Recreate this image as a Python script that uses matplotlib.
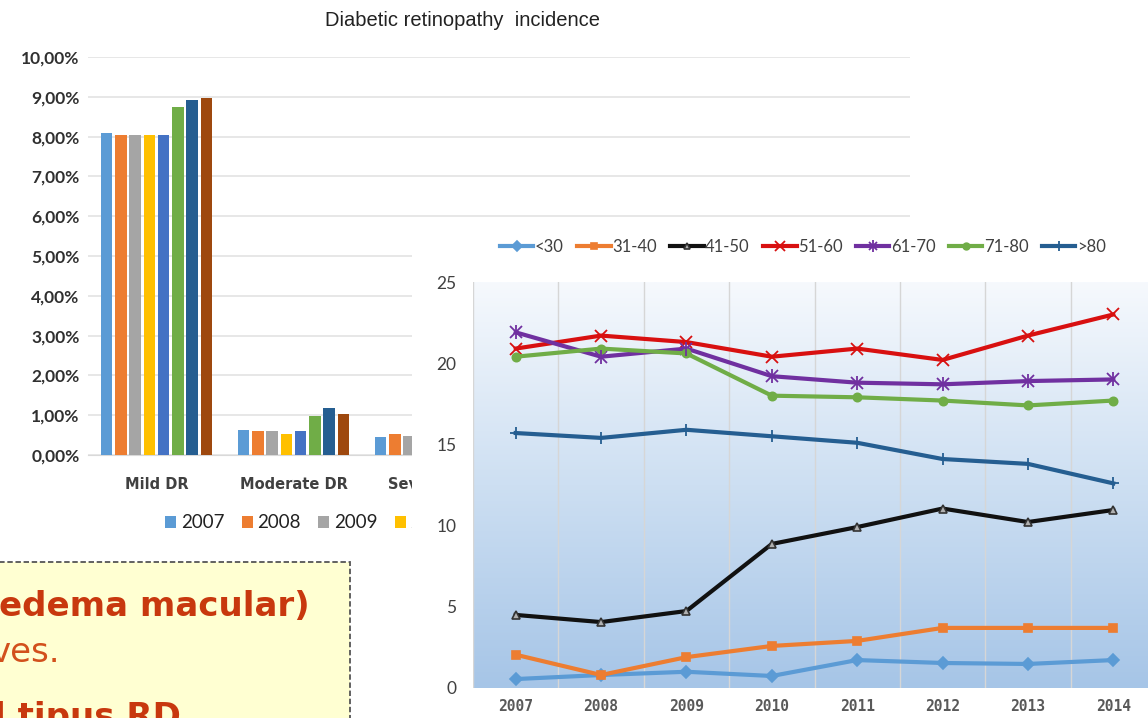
import numpy as np
import matplotlib.pyplot as plt
from matplotlib.patches import Rectangle, Patch
from matplotlib.legend_handler import HandlerTuple
from matplotlib.colors import LinearSegmentedColormap

W, H = 1148, 718

# ---- bar chart data (% of patients) ----
categories = ["Mild DR", "Moderate DR", "Severe DR"]
years = ["2007", "2008", "2009", "2010", "2011", "2012", "2013", "2014"]
bar_values = {
    "2007": [8.08, 0.64, 0.44],
    "2008": [8.04, 0.61, 0.52],
    "2009": [8.04, 0.61, 0.48],
    "2010": [8.04, 0.54, np.nan],
    "2011": [8.04, 0.61, np.nan],
    "2012": [8.75, 0.975, np.nan],
    "2013": [8.92, 1.17, np.nan],
    "2014": [8.98, 1.04, np.nan],
}
bar_colors = ["#5B9BD5", "#ED7D31", "#A5A5A5", "#FFC000",
              "#4472C4", "#70AD47", "#255E91", "#9E480E"]

# ---- line chart data ----
age_groups = ["<30", "31-40", "41-50", "51-60", "61-70", "71-80", ">80"]
line_values = {
    "<30":   [0.55, 0.8, 1.0, 0.74, 1.72, 1.54, 1.48, 1.72],
    "31-40": [2.05, 0.8, 1.9, 2.59, 2.9, 3.7, 3.7, 3.7],
    "41-50": [4.5, 4.06, 4.74, 8.87, 9.91, 11.05, 10.22, 10.96],
    "51-60": [20.9, 21.7, 21.3, 20.4, 20.9, 20.2, 21.7, 23.0],
    "61-70": [21.9, 20.4, 20.9, 19.2, 18.8, 18.7, 18.9, 19.0],
    "71-80": [20.4, 20.9, 20.6, 18.0, 17.9, 17.7, 17.4, 17.7],
    ">80":   [15.7, 15.4, 15.9, 15.5, 15.1, 14.1, 13.8, 12.6],
}
line_colors = ["#5B9BD5", "#ED7D31", "#111111", "#D81010", "#7030A0", "#70AD47", "#255E91"]
line_markers = ["D", "s", "^", "x", "*", "o", "+"]

fig = plt.figure(figsize=(W / 100, H / 100), dpi=100)


def fx(px):
    return px / W


def fy(py):
    return 1 - py / H


# ================= bar chart =================
ax = fig.add_axes([fx(88), fy(455), fx(910) - fx(88), fy(57) - fy(455)])
x = np.arange(len(categories))
slot = 0.1044
for i, yr in enumerate(years):
    ax.bar(x + (i - 3.5) * slot, bar_values[yr], width=0.085,
           color=bar_colors[i], label=yr, zorder=3)
ax.set_xlim(-0.5, 5.5)
ax.set_ylim(0, 10)
ax.set_yticks(np.arange(0, 11, 1))
ax.set_yticklabels([f"{v},00%" for v in range(11)], fontsize=12.5,
                   color="#303030", family="Lato", weight="bold")
ax.set_xticks(x)
ax.set_xticklabels(categories, fontsize=10.5, color="#404040", weight="bold")
ax.tick_params(length=0, axis="y", pad=6)
ax.tick_params(length=0, axis="x", pad=16)
ax.grid(axis="y", color="#E3E3E3", linewidth=1.2, zorder=0)
for s in ax.spines.values():
    s.set_visible(False)
ax.spines["bottom"].set_visible(True)
ax.spines["bottom"].set_color("#D9D9D9")
ax.set_title("Diabetic retinopathy  incidence", fontsize=14.5, family="Liberation Sans",
             color="#222222", x=(fx(462) - fx(88)) / (fx(910) - fx(88)), pad=22)
handles = [Patch(facecolor=c, label=yr) for c, yr in zip(bar_colors, years)]
ax.legend(handles=handles, ncol=8, loc="center", frameon=False,
          bbox_to_anchor=(fx(463), fy(523)), bbox_transform=fig.transFigure,
          prop={"family": "Lato", "size": 13.5}, handlelength=0.6, handleheight=0.6,
          handletextpad=0.25, columnspacing=0.91, labelcolor="#222222")

# ================= white area behind the line chart =================
fig.patches.append(Rectangle((fx(412), 0), 1 - fx(412), fy(230), transform=fig.transFigure,
                             facecolor="white", edgecolor="none", zorder=1))

# ================= text box =================
fig.patches.append(Rectangle((-0.01, -0.01), fx(350) + 0.01, fy(562) + 0.01,
                             transform=fig.transFigure, facecolor="#FFFFD2",
                             edgecolor="#555555", linestyle=(0, (3, 1.5)),
                             linewidth=1.3, zorder=1))
fig.text(fx(-1), fy(606), "edema macular)", fontsize=24.5, weight="bold", family="DejaVu Sans",
         color="#C8380E", va="center", ha="left", zorder=3)
fig.text(fx(-9), fy(652), "ves.", fontsize=24.5, family="DejaVu Sans",
         color="#D2501C", va="center", ha="left", zorder=3)
fig.text(fx(-6), fy(718), "l tipus RD", fontsize=24.5, weight="bold", family="DejaVu Sans",
         color="#C8380E", va="center", ha="left", zorder=3)

# ================= line chart =================
ax2 = fig.add_axes([fx(473), fy(688), fx(1156) - fx(473), fy(282) - fy(688)])
ax2.set_zorder(2)
grad = np.linspace(0, 1, 256).reshape(-1, 1)
cmap = LinearSegmentedColormap.from_list("bg", ["#F6F9FD", "#CDDFF2", "#A6C5E7"])
ax2.imshow(grad, extent=[0, 1, 0, 1], transform=ax2.transAxes, aspect="auto",
           cmap=cmap, origin="upper", zorder=0)
xs = np.arange(len(years))
handles2 = []
for g, c, m in zip(age_groups, line_colors, line_markers):
    kw = dict(markersize=6, markeredgewidth=1.2)
    if m == "^":
        kw.update(markerfacecolor="#B0B0B0", markeredgecolor="#333333", markersize=6)
    elif m == "*":
        kw.update(marker="x", markersize=8, markeredgewidth=1.3)
    elif m in ("x", "+"):
        kw.update(markersize=9, markeredgewidth=1.3)
    if m != "*":
        kw["marker"] = m
    ln, = ax2.plot(xs, line_values[g], color=c, linewidth=3, label=g, zorder=3, **kw)
    if m == "*":
        bar_mark, = ax2.plot(xs, line_values[g], linestyle="none", marker="|",
                             markersize=10, markeredgewidth=1.3, color=c, zorder=4)
        handles2.append((ln, bar_mark))
    else:
        handles2.append(ln)
ax2.set_xlim(-0.5, 7.5)
ax2.set_ylim(0, 25)
ax2.set_yticks(range(0, 26, 5))
ax2.set_yticklabels([str(v) for v in range(0, 26, 5)], fontsize=12.5, family="Lato",
                    color="#404040")
ax2.set_xticks(xs)
ax2.set_xticklabels(years, fontsize=10.5, family="DejaVu Sans Mono", weight="bold",
                    color="#595959")
ax2.set_xticks(np.arange(-0.5, 8, 1), minor=True)
ax2.grid(which="minor", axis="x", color="#D6D6D6", linewidth=1, zorder=1)
ax2.tick_params(which="both", length=0)
ax2.tick_params(axis="y", pad=12)
ax2.tick_params(axis="x", pad=8)
for s in ax2.spines.values():
    s.set_visible(False)
ax2.legend(handles2, age_groups, ncol=7, loc="center", frameon=False,
           bbox_to_anchor=(fx(803), fy(247)), bbox_transform=fig.transFigure,
           prop={"family": "Lato", "size": 12}, handlelength=2.0, handletextpad=0.1,
           columnspacing=0.8, labelcolor="#404040", markerscale=0.8,
           handler_map={tuple: HandlerTuple(ndivide=1)})

fig.savefig("out.png", dpi=100)
